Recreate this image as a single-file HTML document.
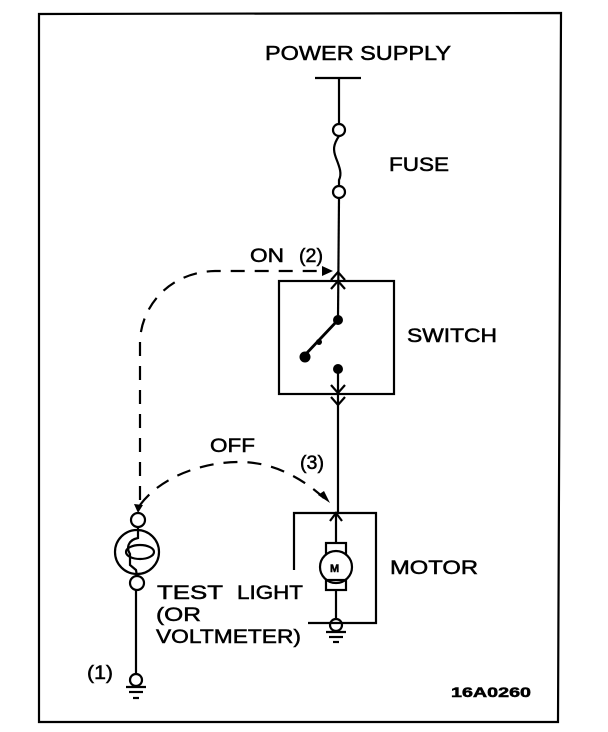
<!DOCTYPE html>
<html><head><style>
html,body{margin:0;padding:0;background:#fff;}
svg{display:block;}
text{font-family:"Liberation Sans",Arial,sans-serif;fill:#000;stroke:#000;stroke-width:0.5;}
</style></head><body>
<svg width="608" height="732" viewBox="0 0 608 732" xmlns="http://www.w3.org/2000/svg">
<g fill="none" stroke="#000" stroke-width="2.2">
<path d="M39 14 L561 13 L558 722 L39 722 Z"/>
<line x1="315" y1="78" x2="361" y2="78"/>
<line x1="339" y1="78" x2="339" y2="124"/>
<circle cx="339" cy="130" r="6"/>
<path d="M339 136 C333 145,333 150,336 158 C340 168,342 174,339 180 L339 186"/>
<circle cx="339" cy="192" r="6"/>
<line x1="339" y1="198" x2="338" y2="318"/>
<rect x="279" y="281" width="115" height="113"/>
<line x1="338" y1="369" x2="338" y2="512"/>
<line x1="338" y1="320" x2="304" y2="356" stroke-width="2.8"/>
<path d="M331 280 L338 272 L345 280"/>
<path d="M331 289 L338 281 L345 289"/>
<path d="M331 385 L338 393 L345 385"/>
<path d="M331 397 L338 405 L345 397"/>
<path d="M294 570 L294 513 L376 513 L376 623 L308 623"/>
<path d="M330 521 L336 513 L342 521"/>
<line x1="336" y1="513" x2="336" y2="543"/>
<rect x="326" y="543" width="20" height="11"/>
<circle cx="336" cy="567" r="16" fill="#fff"/>
<rect x="326" y="580" width="20" height="10"/>
<line x1="336" y1="590" x2="336" y2="619"/>
<circle cx="336" cy="625" r="6"/>
<line x1="326" y1="632" x2="346" y2="632"/>
<line x1="329" y1="637" x2="343" y2="637"/>
<line x1="333" y1="642" x2="339" y2="642"/>
<circle cx="138" cy="520" r="7"/>
<circle cx="137" cy="552" r="22"/>
<path d="M138 527 L138 538 C128 540,126 548,130 554 L130 565 L136 570 L137 576"/>
<ellipse cx="140" cy="552" rx="14" ry="7"/>
<circle cx="137" cy="583" r="7"/>
<line x1="136" y1="590" x2="136" y2="674"/>
<circle cx="136" cy="680" r="6"/>
<line x1="126" y1="687" x2="146" y2="687"/>
<line x1="129" y1="692" x2="143" y2="692"/>
<line x1="133" y1="698" x2="139" y2="698"/>
<path d="M140 500 L140 340 C142 305,170 272,215 271 L322 271" stroke-dasharray="14 10"/>
<path d="M140 505 C160 478,200 462,240 462 C275 462,305 480,326 500" stroke-dasharray="14 10"/>
</g>
<g fill="#000" stroke="none">
<circle cx="338" cy="320" r="5"/>
<circle cx="305" cy="357" r="5.5"/>
<circle cx="338" cy="369" r="5"/>
<circle cx="319" cy="342" r="3"/>
<path d="M322 266 L333 271 L322 276 Z"/>
<path d="M134 504 L138 513 L143 505 Z"/>
<path d="M318 495 L330 503 L324 491 Z"/>
</g>
<text x="265" y="60" font-size="20" textLength="186" lengthAdjust="spacingAndGlyphs">POWER SUPPLY</text>
<text x="389" y="171" font-size="19" textLength="60" lengthAdjust="spacingAndGlyphs">FUSE</text>
<text x="250" y="262" font-size="19" textLength="34" lengthAdjust="spacingAndGlyphs">ON</text>
<text x="299" y="262" font-size="19" textLength="24" lengthAdjust="spacingAndGlyphs">(2)</text>
<text x="407" y="342" font-size="19" textLength="90" lengthAdjust="spacingAndGlyphs">SWITCH</text>
<text x="210" y="452" font-size="19" textLength="45" lengthAdjust="spacingAndGlyphs">OFF</text>
<text x="300" y="469" font-size="19" textLength="24" lengthAdjust="spacingAndGlyphs">(3)</text>
<text x="390" y="574" font-size="19" textLength="88" lengthAdjust="spacingAndGlyphs">MOTOR</text>
<text x="330" y="572" font-size="11" font-weight="bold" stroke-width="0">M</text>
<text x="157" y="599" font-size="19" textLength="66" lengthAdjust="spacingAndGlyphs">TEST</text>
<text x="237" y="599" font-size="19" textLength="66" lengthAdjust="spacingAndGlyphs">LIGHT</text>
<text x="156" y="621" font-size="19" textLength="45" lengthAdjust="spacingAndGlyphs">(OR</text>
<text x="156" y="643" font-size="19" textLength="145" lengthAdjust="spacingAndGlyphs">VOLTMETER)</text>
<text x="87" y="679" font-size="19" textLength="26" lengthAdjust="spacingAndGlyphs">(1)</text>
<text x="451" y="697" font-size="14" font-weight="bold" textLength="80" lengthAdjust="spacingAndGlyphs">16A0260</text>
</svg>
</body></html>
